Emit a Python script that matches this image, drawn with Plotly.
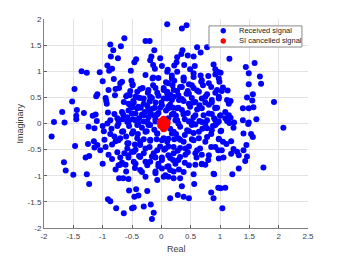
import plotly.graph_objects as go

# Received signal (blue) points
rx_pts = [
(-0.63,1.63),(-0.87,1.51),(-0.69,1.48),(-0.82,1.40),(-0.86,1.28),(-0.74,1.25),(-0.92,1.11),(-0.84,1.05),(-0.89,1.01),(-0.52,1.01),
(-1.36,1.00),(-1.27,0.97),(-1.05,0.98),(-0.81,0.85),(-1.00,0.81),(-0.67,0.80),(-0.51,0.82),(-0.70,0.77),(-0.49,0.75),(-1.48,0.66),
(-0.90,0.64),(-0.72,0.68),(-0.78,0.66),(-0.53,0.62),(-1.09,0.56),(-1.11,0.52),(-0.79,0.54),(-0.95,0.49),(-0.60,0.52),(-0.54,0.54),
(-1.52,0.42),(-0.94,0.43),(-0.93,0.38),(-0.64,0.41),(-0.56,0.38),(-0.48,0.43),(-1.69,0.22),(-1.44,0.26),(-1.32,0.20),(-1.45,0.15),
(-1.12,0.17),(-1.17,0.15),(-0.91,0.21),(-0.80,0.18),(-0.65,0.17),(-1.83,0.03),(-1.65,0.02),(-0.87,0.06),(-0.75,0.10),(-0.66,0.08),
(-0.58,0.12),(-0.49,0.08),(-0.56,0.25),(-0.49,0.31),
(0.10,1.90),(0.35,1.82),(0.43,1.88),(-0.27,1.58),(-0.20,1.58),(-0.12,1.40),(0.36,1.40),(0.61,1.46),(0.78,1.46),(0.34,1.33),
(0.67,1.36),(-0.17,1.28),(-0.02,1.25),(0.27,1.27),(0.45,1.30),(0.55,1.28),(-0.43,1.23),(-0.46,1.17),(-0.19,1.21),(0.26,1.17),
(-0.14,1.12),(0.01,1.10),(0.22,1.11),(0.39,1.12),(0.57,1.10),(0.89,1.13),(-0.11,1.05),(0.11,1.03),(0.55,0.96),(0.96,0.99),
(-0.27,0.93),(0.18,0.92),(0.38,0.88),(0.67,0.92),(0.80,0.91),(0.92,0.94),(-0.14,0.88),(-0.05,0.87),(0.55,0.89),(0.08,0.79),
(0.22,0.82),(0.38,0.82),(0.68,0.80),(0.99,0.80),(-0.49,0.73),(-0.32,0.68),(-0.14,0.73),(0.04,0.68),(0.19,0.73),(0.32,0.70),
(0.47,0.75),(0.55,0.68),(0.71,0.73),(0.85,0.70),(-0.41,0.61),(-0.23,0.59),(-0.07,0.59),(0.10,0.61),(0.27,0.62),(0.43,0.57),
(0.61,0.63),(0.78,0.56),(0.92,0.59),(1.03,0.62),(-0.36,0.49),(-0.19,0.51),(0.04,0.48),(0.21,0.51),(0.35,0.47),(0.52,0.49),
(0.69,0.48),(0.86,0.45),(0.98,0.51),(-0.47,0.40),(-0.30,0.38),(-0.10,0.40),(0.15,0.36),(0.47,0.38),(0.81,0.36),(-0.41,0.29),
(-0.22,0.27),(-0.02,0.30),(0.27,0.29),(0.61,0.27),(0.92,0.29),(-0.50,0.19),(-0.33,0.17),(-0.13,0.16),(0.18,0.17),(0.38,0.19),
(0.72,0.16),(0.86,0.18),(-0.44,0.06),(-0.24,0.04),(0.27,0.06),(0.49,0.04),(0.78,0.06),(0.98,0.04),
(1.16,1.24),(1.44,1.08),(1.59,1.16),(1.49,0.96),(1.68,0.90),(1.70,0.76),(1.49,0.75),(1.01,0.97),(1.05,0.69),(1.13,0.63),
(1.56,0.56),(1.46,0.50),(1.12,0.45),(1.18,0.43),(1.15,0.38),(1.55,0.44),(1.92,0.41),(1.39,0.29),(1.49,0.29),(1.57,0.31),
(1.09,0.22),(1.15,0.16),(1.18,0.11),(1.09,0.10),(1.24,0.02),(1.39,0.06),(1.49,0.02),(1.62,0.08),
(1.12,0.05),(1.16,0.01),(1.48,-0.01),(1.23,-0.08),(1.02,-0.14),(1.40,-0.19),(1.53,-0.20),(1.56,-0.26),(2.08,-0.08),(1.19,-0.34),
(1.11,-0.39),(1.45,-0.41),(1.03,-0.51),(1.06,-0.65),(1.23,-0.49),(1.29,-0.54),(1.19,-0.58),(1.40,-0.51),(1.46,-0.63),(1.43,-0.72),
(1.32,-0.61),(1.74,-0.84),(1.32,-0.86),(1.21,-0.97),(1.09,-1.23),(1.01,-1.24),(1.04,-1.62),
(-1.45,0.08),(-1.87,-0.25),(-1.24,-0.06),(-1.14,-0.09),(-1.10,0.05),(-0.98,-0.15),(-0.87,-0.20),(-1.15,-0.34),(-1.25,-0.39),(-1.09,-0.41),
(-0.97,-0.31),(-1.47,-0.43),(-1.14,-0.46),(-1.04,-0.51),(-0.95,-0.45),(-0.84,-0.40),(-0.78,-0.34),(-0.70,-0.28),(-0.58,-0.38),(-1.29,-0.65),
(-1.23,-0.62),(-1.66,-0.74),(-1.63,-0.90),(-1.50,-0.98),(-1.27,-0.97),(-1.23,-1.16),(-1.00,-0.77),(-0.84,-0.68),(-0.78,-0.88),(-0.70,-0.79),
(-0.72,-1.05),(-0.65,-1.05),(-0.56,-1.06),(-0.60,-0.92),(-0.61,-0.79),(-0.63,-0.57),(-0.56,-0.65),(-0.50,-0.54),(-0.91,-1.45),(-0.87,-1.49),
(-0.77,-1.62),(-0.64,-1.72),(-0.55,-1.28),(-0.46,-1.40),(-0.50,-1.62),
(-0.48,-0.15),(-0.41,-0.28),(-0.36,-0.41),(-0.47,-0.54),(-0.30,-0.57),(-0.27,-0.73),(-0.36,-0.89),(-0.27,-1.02),(-0.10,-0.92),(-0.07,-1.08),
(0.01,-0.86),(0.12,-0.82),(0.21,-1.05),(0.32,-1.05),(0.15,-0.66),(0.29,-0.70),(0.41,-0.60),(0.58,-0.79),(0.69,-0.78),(0.75,-0.79),
(0.55,-0.97),(0.90,-0.97),(0.35,-1.20),(0.56,-1.16),(0.97,-1.23),(0.85,-1.32),(0.89,-1.43),(-0.43,-1.26),(-0.24,-1.29),(-0.39,-1.38),
(0.15,-1.43),(0.28,-1.37),(0.38,-1.40),(0.47,-1.43),(-0.47,-1.61),(-0.30,-1.59),(-0.18,-1.55),(-0.13,-1.71),(-0.16,-1.83),(0.97,-0.51),
(1.01,-0.15),(0.92,-0.03),(0.78,-0.09),(0.64,-0.28),(0.61,-0.51),(0.69,-0.60),(0.47,-0.44),(0.32,-0.47),(0.29,-0.28),(0.47,-0.15),
(0.52,-0.03),(0.32,-0.06),(0.18,-0.19),(0.04,-0.28),(-0.07,-0.19),(-0.19,-0.31),(-0.02,-0.44),(0.12,-0.44),(0.21,-0.57),(-0.13,-0.57),
(-0.19,-0.73),(0.01,-0.70),(0.04,-1.02),(0.21,-0.92),(-0.47,-0.73),(-0.30,0.04),(-0.19,-0.03),(-0.41,-0.03),
(-0.35,0.30),(-0.28,0.22),(-0.15,0.28),(-0.05,0.20),(0.08,0.25),(0.20,0.30),(0.35,0.26),(0.45,0.20),(0.55,0.12),(0.65,0.05),
(-0.38,0.10),(-0.22,0.12),(-0.10,0.08),(0.12,0.10),(0.25,0.15),(0.40,0.08),(0.58,-0.02),(0.70,-0.10),(-0.33,-0.08),(-0.25,-0.15),
(-0.12,-0.12),(0.15,-0.10),(0.25,-0.20),(0.40,-0.22),(0.55,-0.18),(0.85,-0.20),(-0.40,-0.20),(-0.30,-0.30),(-0.08,-0.30),(0.10,-0.35),
(0.22,-0.30),(0.38,-0.35),(0.52,-0.30),(0.75,-0.35),(-0.45,-0.40),(-0.20,-0.45),(0.05,-0.50),(0.28,-0.52),(0.45,-0.55),(0.85,-0.45),
(-0.38,-0.62),(-0.10,-0.65),(0.20,-0.70),(0.40,-0.75),(-0.55,-0.05),(-0.65,-0.15),(-0.75,-0.05),(-0.85,-0.10),(-0.60,-0.25),(-0.80,-0.25),
(-0.92,0.00),(-1.00,-0.05),(0.90,0.10),(0.95,0.30),(0.75,0.40),(0.65,0.35),(0.88,-0.05),(1.00,0.15),(-0.20,0.42),(0.00,0.40),
(0.30,0.45),(0.55,0.40),(-0.40,0.50),(0.15,0.55),(0.45,0.62),(-0.05,-0.82),(0.30,-0.88),(-0.45,-0.85),(0.60,-0.65),(0.80,-0.70),
(-0.58,-0.48),(-0.75,-0.55),(-0.90,-0.60),(-0.70,-0.65),(0.98,-0.30),(1.05,-0.35),
# dense core, upper left
(-0.15,0.86),(0.10,0.99),(-0.36,0.66),(-0.22,0.64),(-0.10,0.68),(0.04,0.64),(-0.58,0.54),(-0.44,0.51),(-0.30,0.48),(-0.16,0.49),
(-0.05,0.53),(0.10,0.48),(-0.53,0.35),(-0.39,0.32),(-0.24,0.34),(-0.11,0.30),(0.01,0.35),(0.12,0.29),(-0.67,0.22),(-0.44,0.19),
(-0.30,0.16),(-0.19,0.19),(-0.07,0.17),(-0.73,0.06),(-0.58,0.03),(-0.44,0.06),(-0.24,0.03),(-0.10,0.04),
# dense core, upper right
(0.27,0.99),(0.49,1.04),(0.92,1.04),(0.18,0.86),(0.38,0.86),(0.69,0.83),(0.98,0.86),(0.12,0.77),(0.35,0.70),(0.52,0.73),
(0.81,0.77),(0.21,0.64),(0.64,0.61),(0.95,0.64),(0.10,0.57),(0.29,0.54),(0.47,0.57),(0.75,0.51),(0.98,0.48),(0.18,0.45),
(0.38,0.43),(0.58,0.41),(0.86,0.40),(0.12,0.32),(0.29,0.30),(0.49,0.32),(0.69,0.29),(0.92,0.30),(0.21,0.19),(0.38,0.17),
(0.58,0.16),(0.81,0.19),(1.01,0.16),(0.24,0.06),(0.47,0.04),(0.69,0.03),(0.92,0.06),
# dense core, lower left
(-0.73,0.00),(-0.56,0.03),(-0.39,0.00),(-0.22,-0.03),(-0.67,-0.16),(-0.50,-0.19),(-0.27,-0.16),(-0.07,-0.19),(-0.73,-0.32),(-0.56,-0.38),
(-0.36,-0.35),(-0.19,-0.33),(0.01,-0.32),(-0.44,-0.50),(-0.27,-0.48),(-0.07,-0.51),(0.07,-0.48),(-0.56,-0.61),(-0.36,-0.64),(-0.16,-0.63),
(0.01,-0.65),(-0.67,-0.75),(-0.44,-0.77),(-0.24,-0.80),(-0.05,-0.77),(0.10,-0.83),(-0.33,-0.93),(-0.10,-0.95),(0.07,-0.99),(-0.73,-0.80),
# dense core, lower right
(0.29,0.00),(0.52,0.03),(0.75,-0.01),(0.95,0.01),(0.21,-0.16),(0.44,-0.13),(0.64,-0.16),(0.86,-0.13),(0.12,-0.29),(0.32,-0.31),
(0.55,-0.32),(0.78,-0.26),(0.98,-0.29),(0.21,-0.45),(0.41,-0.48),(0.66,-0.48),(0.92,-0.45),(0.12,-0.61),(0.32,-0.64),(0.58,-0.57),
(0.81,-0.61),(0.98,-0.67),(0.24,-0.77),(0.47,-0.80),(0.69,-0.77),(0.15,-0.89),(0.38,-0.93),(0.89,-0.96),(0.12,-1.02),
]
rx_real = [p[0] for p in rx_pts]
rx_imag = [p[1] for p in rx_pts]

# SI cancelled signal (red) points, clustered near the origin
si_real = [0.04, 0.00, 0.08, 0.04, 0.04, -0.02, 0.10, 0.02, 0.06, 0.01, 0.07, 0.03, 0.05, -0.01, 0.09, 0.04]
si_imag = [-0.01, -0.01, -0.01, 0.08, -0.10, 0.03, 0.02, -0.06, 0.05, 0.05, -0.05, 0.00, 0.01, -0.04, -0.03, 0.03]

x_ticks = [-2, -1.5, -1, -0.5, 0, 0.5, 1, 1.5, 2, 2.5]
y_ticks = [-2, -1.5, -1, -0.5, 0, 0.5, 1, 1.5, 2]
legend_labels = ["Received signal", "SI cancelled signal"]
legend_colors = ["#0000ff", "#ff0000"]
x_title = "Real"
y_title = "Imaginary"

FONT = "Liberation Sans, Arial, sans-serif"

fig = go.Figure()
fig.add_trace(go.Scatter(x=rx_real, y=rx_imag, mode="markers", name=legend_labels[0],
                         marker=dict(color=legend_colors[0], size=6, line=dict(width=0))))
fig.add_trace(go.Scatter(x=si_real, y=si_imag, mode="markers", name=legend_labels[1],
                         marker=dict(color=legend_colors[1], size=7, line=dict(width=0))))

axis_common = dict(showgrid=True, gridcolor="#e3e3e3", gridwidth=1, zeroline=False,
                   showline=True, linecolor="#808080", linewidth=1, ticks="inside", ticklen=3,
                   tickcolor="#606060", tickfont=dict(family=FONT, size=8, color="#404040"),
                   mirror=False, automargin=False)
fig.update_xaxes(range=[-2, 2.5], tickvals=x_ticks, ticktext=[f"{v:g}" for v in x_ticks], **axis_common)
fig.update_yaxes(range=[-2, 2], tickvals=y_ticks, ticktext=[f"{v:g}" for v in y_ticks], **axis_common)

# compact boxed legend (MATLAB style)
lx0, lx1, ly0, ly1 = 0.625, 0.977, 0.866, 0.967
mark_x = 0.679
text_x = 0.73
row_y = [0.944, 0.895]
shapes = [dict(type="rect", xref="paper", yref="paper", x0=lx0, x1=lx1, y0=ly0, y1=ly1,
               line=dict(color="#8a8a8a", width=1), fillcolor="white", layer="above")]
annotations = []
for lab, col, ry in zip(legend_labels, legend_colors, row_y):
    shapes.append(dict(type="circle", xref="paper", yref="paper", xsizemode="pixel", ysizemode="pixel",
                       xanchor=mark_x, yanchor=ry, x0=-2.7, x1=2.7, y0=-2.7, y1=2.7,
                       fillcolor=col, line=dict(width=0), layer="above"))
    annotations.append(dict(text=lab, xref="paper", yref="paper", x=text_x, y=ry, xanchor="left",
                            yanchor="middle", showarrow=False,
                            font=dict(family=FONT, size=7.5, color="#222222")))
# axis titles
annotations.append(dict(text=x_title, xref="paper", yref="paper", x=0.5, y=-0.10, xanchor="center",
                        yanchor="middle", showarrow=False, font=dict(family=FONT, size=9, color="#404040")))
annotations.append(dict(text=y_title, xref="paper", yref="paper", x=-0.091, y=0.5, xanchor="center",
                        yanchor="middle", textangle=-90, showarrow=False,
                        font=dict(family=FONT, size=9, color="#404040")))

# page body has an 8px margin: size the figure so the plot area lands where the reference has it
fig.update_layout(width=333, height=248, margin=dict(l=36, r=33, t=11, b=28),
                  paper_bgcolor="white", plot_bgcolor="white",
                  showlegend=False, shapes=shapes, annotations=annotations)
fig.write_html("out.html")
